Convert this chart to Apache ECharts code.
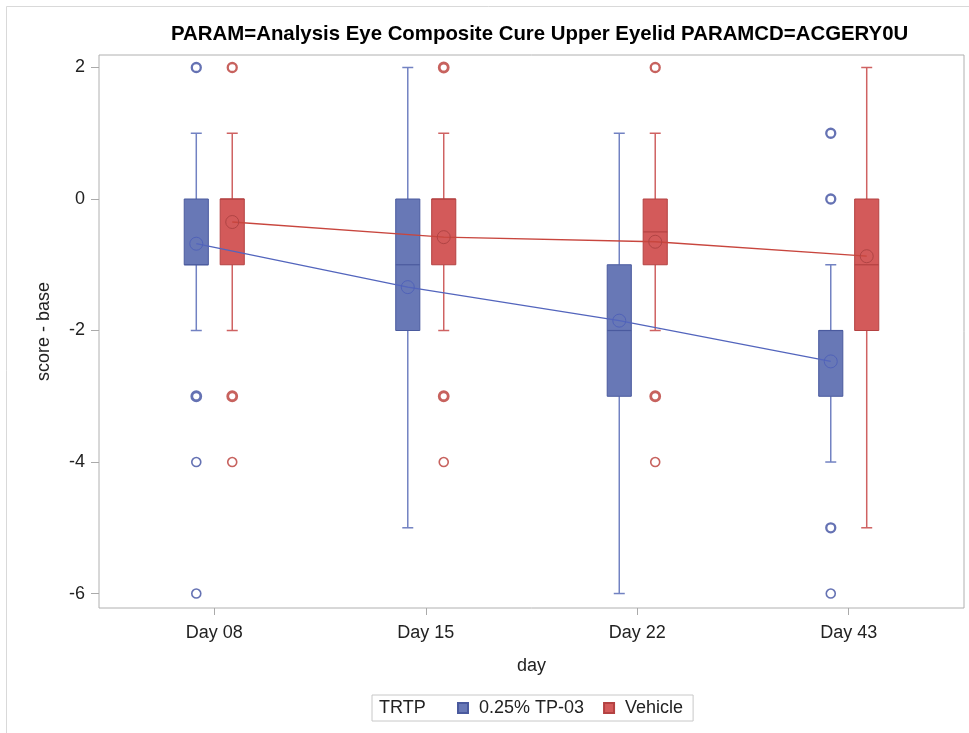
<!DOCTYPE html>
<html><head><meta charset="utf-8">
<script src="https://cdn.jsdelivr.net/npm/echarts@6/dist/echarts.min.js"></script>
<style>html,body{margin:0;padding:0;background:#fff}#chart{width:969px;height:733px}</style>
</head><body><div id="chart"></div>
<script>
const categories = ['Day 08', 'Day 15', 'Day 22', 'Day 43'];
const seriesNames = ['0.25% TP-03', 'Vehicle'];
// box statistics: [low whisker, Q1, median, Q3, high whisker]
const tp03Box = [[-2, -1, -1, 0, 1], [-5, -2, -1, 0, 2], [-6, -3, -2, -1, 1], [-4, -3, -2, -2, -1]];
const vehicleBox = [[-2, -1, 0, 0, 1], [-2, -1, 0, 0, 1], [-2, -1, -0.5, 0, 1], [-5, -2, -1, 0, 2]];
const tp03Mean = [-0.68, -1.34, -1.85, -2.47];
const vehicleMean = [-0.35, -0.58, -0.65, -0.87];
// outliers: [day index, value, overlapping subjects]
const tp03Outliers = [[0, 2, 2], [0, -3, 3], [0, -4, 1], [0, -6, 1], [3, 1, 2], [3, 0, 2], [3, -5, 2], [3, -6, 1]];
const vehicleOutliers = [[0, 2, 2], [0, -3, 3], [0, -4, 1], [1, 2, 3], [1, -3, 3], [1, -4, 1], [2, 2, 2], [2, -3, 3], [2, -4, 1]];
const yTicks = [-6, -4, -2, 0, 2];

const FONT = 'Liberation Sans';
const SHIFT = 0.085;   // dodge between the two treatment groups, in day units
const BOX_W = 0.114;
const CAP_W = 0.052;

const styles = [
  { fill: '#6878b6', stroke: '#4a5a9e', whisker: '#7282c2', outlier: '#3f4fa0', mean: '#5062b8', line: '#5365bd' },
  { fill: '#d35a5a', stroke: '#b44242', whisker: '#cf6262', outlier: '#b93b36', mean: '#b04444', line: '#c8463e' }
];

function boxRenderer(shift, s) {
  return function (params, api) {
    const x = api.value(0) + shift;
    const lo = api.coord([x, api.value(1)]);
    const q1 = api.coord([x, api.value(2)]);
    const med = api.coord([x, api.value(3)]);
    const q3 = api.coord([x, api.value(4)]);
    const hi = api.coord([x, api.value(5)]);
    const unit = api.size([1, 0])[0];
    const hw = unit * BOX_W / 2, cw = unit * CAP_W / 2, cx = lo[0];
    const ws = { stroke: s.whisker, lineWidth: 1.5 };
    return {
      type: 'group', children: [
        { type: 'line', shape: { x1: cx, y1: hi[1], x2: cx, y2: q3[1] }, style: ws },
        { type: 'line', shape: { x1: cx, y1: q1[1], x2: cx, y2: lo[1] }, style: ws },
        { type: 'line', shape: { x1: cx - cw, y1: hi[1], x2: cx + cw, y2: hi[1] }, style: ws },
        { type: 'line', shape: { x1: cx - cw, y1: lo[1], x2: cx + cw, y2: lo[1] }, style: ws },
        { type: 'rect', shape: { x: cx - hw, y: q3[1], width: 2 * hw, height: q1[1] - q3[1] },
          style: { fill: s.fill, stroke: s.stroke, lineWidth: 1 } },
        { type: 'line', shape: { x1: cx - hw, y1: med[1], x2: cx + hw, y2: med[1] },
          style: { stroke: s.stroke, lineWidth: 1.2 } }
      ]
    };
  };
}

function boxSeries(idx, boxes, shift) {
  const s = styles[idx];
  return {
    type: 'custom', name: seriesNames[idx], z: 2,
    itemStyle: { color: s.fill, borderColor: s.stroke, borderWidth: 1 },
    renderItem: boxRenderer(shift, s),
    encode: { x: 0, y: [1, 2, 3, 4, 5] },
    data: boxes.map((b, i) => [i].concat(b))
  };
}

function outlierSeries(idx, pts, shift) {
  const s = styles[idx];
  return {
    type: 'scatter', name: seriesNames[idx] + ' outliers', z: 4,
    symbol: 'circle', symbolSize: 9,
    data: pts.map(p => ({
      value: [p[0] + shift, p[1]],
      itemStyle: { color: '#fff', borderColor: s.outlier, borderWidth: p[2] > 2 ? 2.8 : (p[2] > 1 ? 2.3 : 1.6) }
    }))
  };
}

function meanSeries(idx, means, shift) {
  const s = styles[idx];
  return {
    type: 'line', name: seriesNames[idx] + ' mean', z: 5,
    symbol: 'circle', symbolSize: 13, showSymbol: true,
    itemStyle: { color: 'rgba(0,0,0,0)', borderColor: s.mean, borderWidth: 1 },
    lineStyle: { color: s.line, width: 1.3 },
    emphasis: { disabled: true },
    data: means.map((v, i) => [i + shift, v])
  };
}

const chart = echarts.init(document.getElementById('chart'), null, { renderer: 'canvas' });
chart.setOption({
  backgroundColor: '#fff',
  animation: false,
  title: {
    text: 'PARAM=Analysis Eye Composite Cure Upper Eyelid PARAMCD=ACGERY0U',
    left: 171, top: 24, padding: 0,
    textStyle: { fontFamily: FONT, fontSize: 20.4, fontWeight: 'bold', color: '#000' }
  },
  grid: { left: 99, right: 5, top: 55, bottom: 125, show: true, borderColor: '#b0b0b0', borderWidth: 1 },
  xAxis: {
    type: 'value', min: -0.545, max: 3.545,
    name: 'day', nameLocation: 'middle', nameGap: 49,
    nameTextStyle: { fontFamily: FONT, fontSize: 18, color: '#222' },
    axisLine: { show: false, onZero: false },
    splitLine: { show: false },
    axisTick: { show: true, length: 7, customValues: [0, 1, 2, 3], lineStyle: { color: '#aaa' } },
    axisLabel: { customValues: [0, 1, 2, 3], formatter: v => categories[Math.round(v)],
      fontFamily: FONT, fontSize: 18, color: '#222', margin: 16 }
  },
  yAxis: {
    type: 'value', min: -6.22, max: 2.19,
    name: 'score - base', nameLocation: 'middle', nameGap: 46,
    nameTextStyle: { fontFamily: FONT, fontSize: 18, color: '#222' },
    axisLine: { show: false, onZero: false },
    splitLine: { show: false },
    axisTick: { show: true, length: 8, customValues: yTicks, lineStyle: { color: '#aaa' } },
    axisLabel: { customValues: yTicks, fontFamily: FONT, fontSize: 18, color: '#222', margin: 14 }
  },
  legend: {
    data: seriesNames,
    left: 372, top: 695,
    padding: [4, 10, 4, 85],
    borderColor: '#c8c8c8', borderWidth: 1,
    icon: 'rect', itemWidth: 10, itemHeight: 10, itemGap: 19,
    textStyle: { fontFamily: FONT, fontSize: 18, color: '#222', padding: [0, 0, 0, 6] },
    selectedMode: false
  },
  graphic: [
    { type: 'rect', silent: true, shape: { x: 6.5, y: 6.5, width: 1000, height: 1000 },
      style: { fill: null, stroke: '#d9d9d9', lineWidth: 1 } },
    { type: 'text', left: 379, top: 699, silent: true,
      style: { text: 'TRTP', fontFamily: FONT, fontSize: 18, fill: '#222' } }
  ],
  series: [
    boxSeries(0, tp03Box, -SHIFT),
    boxSeries(1, vehicleBox, SHIFT),
    outlierSeries(0, tp03Outliers, -SHIFT),
    outlierSeries(1, vehicleOutliers, SHIFT),
    meanSeries(0, tp03Mean, -SHIFT),
    meanSeries(1, vehicleMean, SHIFT)
  ]
});
</script></body></html>
